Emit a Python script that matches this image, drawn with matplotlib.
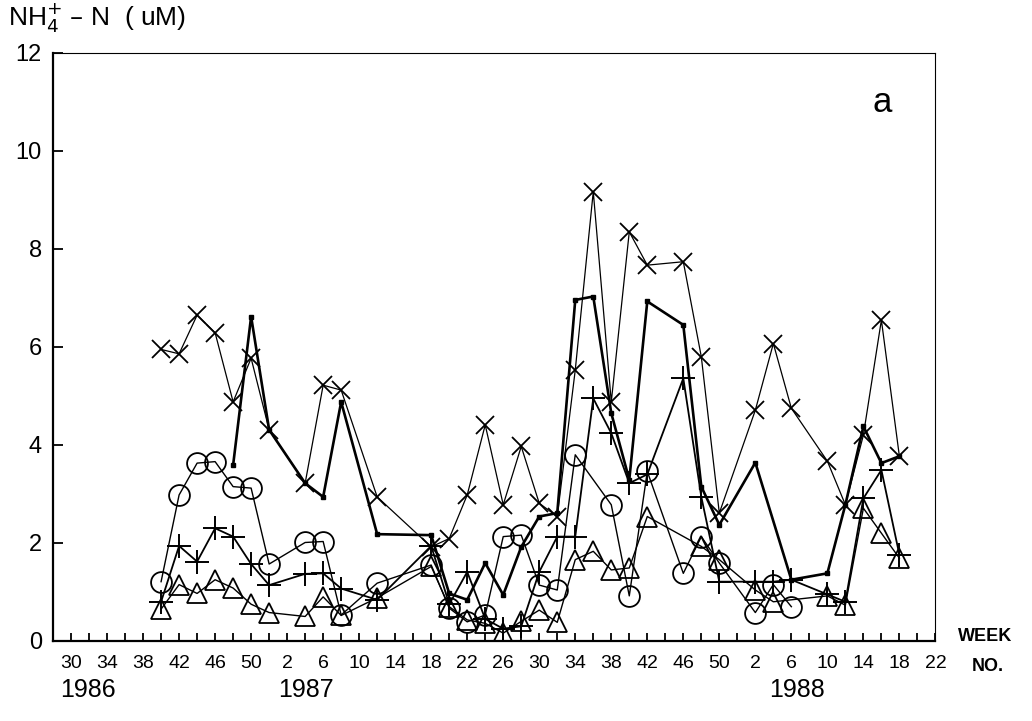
import matplotlib.pyplot as plt

# x = weeks counted from week 30 of 1986 (1987 wk 2 -> 24, 1988 wk 2 -> 76)
x_cross = [10, 12, 14, 16, 18, 20, 22, 26, 28, 30, 34, 40, 42, 44, 46, 48, 50, 52, 54,
           56, 58, 60, 62, 64, 68, 70, 72, 76, 78, 80, 84, 86, 88, 90, 92]
y_cross = [5.95, 5.86, 6.65, 6.29, 4.88, 5.77, 4.31, 3.22, 5.22, 5.12, 2.94, 1.92, 2.09,
           2.98, 4.41, 2.78, 3.97, 2.81, 2.54, 5.53, 9.17, 4.88, 8.35, 7.67, 7.74, 5.80,
           2.61, 4.71, 6.07, 4.75, 3.67, 2.78, 4.20, 6.55, 3.77]

x_square = [18, 20, 22, 26, 28, 30, 34, 40, 42, 44, 46, 48, 50, 52, 54, 56, 58, 60, 62,
            64, 68, 70, 72, 76, 80, 84, 86, 88, 90, 92]
y_square = [3.59, 6.62, 4.31, 3.22, 2.94, 4.88, 2.18, 2.16, 0.97, 0.84, 1.59, 0.94, 1.92,
            2.54, 2.61, 6.96, 7.03, 4.65, 3.29, 6.93, 6.45, 3.15, 2.37, 3.64, 1.25, 1.38,
            2.78, 4.38, 3.63, 3.77]

x_circle = [10, 12, 14, 16, 18, 20, 22, 26, 28, 30, 34, 40, 42, 44, 46, 48, 50, 52, 54,
            56, 60, 62, 64, 68, 70, 72, 76, 78, 80]
y_circle = [1.21, 2.98, 3.63, 3.66, 3.15, 3.12, 1.57, 2.01, 2.03, 0.53, 1.18, 1.55, 0.67,
            0.39, 0.53, 2.13, 2.16, 1.14, 1.04, 3.80, 2.78, 0.92, 3.46, 1.38, 2.13, 1.59,
            0.58, 1.15, 0.70]

x_plus = [10, 12, 14, 16, 18, 20, 22, 26, 28, 30, 34, 40, 42, 44, 46, 48, 50, 52, 54,
          56, 58, 60, 62, 64, 68, 70, 72, 76, 78, 80, 84, 86, 88, 90, 92]
y_plus = [0.80, 1.94, 1.62, 2.30, 2.13, 1.57, 1.14, 1.37, 1.38, 1.07, 0.84, 1.94, 0.75,
          1.41, 0.45, 0.25, 0.30, 1.41, 2.13, 2.13, 4.95, 4.24, 3.22, 3.40, 5.36, 2.94,
          1.21, 1.21, 1.21, 1.25, 0.95, 0.80, 2.91, 3.49, 1.76]

x_tri = [10, 12, 14, 16, 18, 20, 22, 26, 28, 30, 34, 40, 42, 44, 46, 48, 50, 52, 54,
         56, 58, 60, 62, 64, 70, 72, 76, 78, 84, 86, 88, 90, 92]
y_tri = [0.65, 1.15, 0.97, 1.25, 1.08, 0.75, 0.58, 0.50, 0.90, 0.52, 0.88, 1.52, 0.70,
         0.43, 0.36, 0.16, 0.40, 0.63, 0.38, 1.66, 1.83, 1.45, 1.49, 2.54, 1.93, 1.66,
         1.04, 0.80, 0.92, 0.73, 2.71, 2.20, 1.69]

week_labels = ["30", "34", "38", "42", "46", "50", "2", "6", "10", "14", "18", "22", "26",
               "30", "34", "38", "42", "46", "50", "2", "6", "10", "14", "18", "22"]
years = ["1986", "1987", "1988"]

plt.rcParams['font.family'] = ['Liberation Sans', 'DejaVu Sans']

fig = plt.figure(figsize=(10.32, 7.21), dpi=100)
ax = fig.add_axes([0.0514, 0.111, 0.855, 0.8155])

ax.plot(x_cross, y_cross, color='black', lw=0.9, marker='x', ms=13, mew=1.3)
ax.plot(x_square, y_square, color='black', lw=1.9, marker='s', ms=3.5)
ax.plot(x_circle, y_circle, color='black', lw=1.0, marker='o', ms=15, mfc='none', mew=1.3)
ax.plot(x_plus, y_plus, color='black', lw=1.3, marker='+', ms=17, mew=1.4)
ax.plot(x_tri, y_tri, color='black', lw=1.0, marker='^', ms=14, mfc='none', mew=1.3)

ax.set_xlim(-2, 96)
ax.set_ylim(0, 12)
ax.set_yticks(range(0, 13, 2))
ax.set_xticks(range(0, 97, 4))
ax.set_xticklabels(week_labels)
ax.set_xticks(range(2, 96, 4), minor=True)
ax.tick_params(axis='x', which='both', direction='in', length=6, width=1.3, pad=10, labelsize=14)
ax.tick_params(axis='y', direction='in', length=7, width=1.3, labelsize=17, pad=8)

for s in ['left', 'bottom']:
    ax.spines[s].set_linewidth(1.6)
for s in ['top', 'right']:
    ax.spines[s].set_linewidth(0.8)
ax.spines['top'].set_linestyle((0, (6, 1)))

fig.text(0.008, 0.952, r"NH$_4^{+}$ – N  ( uM)", fontsize=19, ha='left', va='bottom')
ax.text(0.94, 0.915, "a", transform=ax.transAxes, fontsize=25, ha='center', va='center')

for xp, label in zip([0.085, 0.296, 0.772], years):
    fig.text(xp, 0.043, label, fontsize=18, ha='center', va='center')
fig.text(0.955, 0.117, "WEEK", fontsize=13, ha='center', va='center', fontweight='bold')
fig.text(0.957, 0.075, "NO.", fontsize=13, ha='center', va='center', fontweight='bold')

plt.savefig("out.png", dpi=100)
